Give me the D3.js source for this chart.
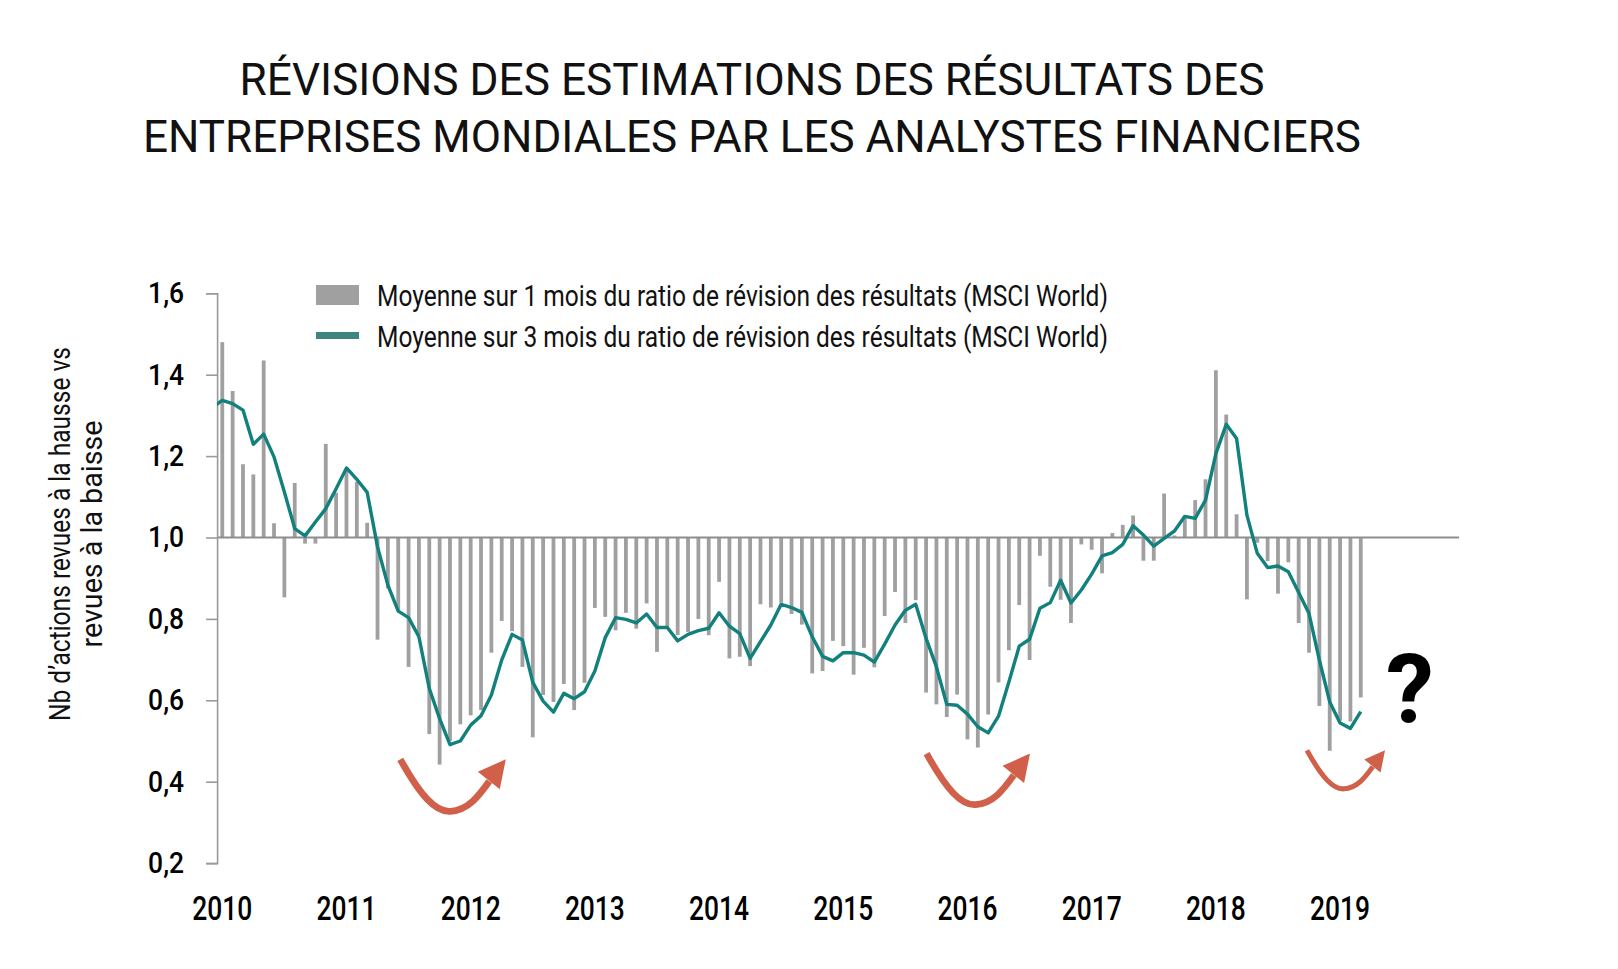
<!DOCTYPE html>
<html><head><meta charset="utf-8">
<script src="https://cdn.jsdelivr.net/npm/d3@7"></script>
<style>
body{margin:0;background:#fff}
svg{display:block}
text{font-family:Roboto,"Noto Sans",sans-serif}
</style>
</head><body>
<svg id="c" width="1618" height="969"></svg>
<script>
// ---- DATA ----
// Monthly 1-month average ratio, Jan 2010 .. Mar 2019
const barValues = [
 1.48,1.36,1.18,1.155,1.435,1.035,0.853,1.134,0.985,0.985,1.23,1.11,
 1.165,1.137,1.036,0.749,0.875,0.82,0.682,0.76,0.517,0.442,0.50,0.541,
 0.563,0.576,0.717,0.795,0.77,0.682,0.509,0.613,0.596,0.640,0.576,0.643,
 0.827,0.805,0.772,0.815,0.776,0.838,0.719,0.78,0.76,0.768,0.800,0.760,
 0.891,0.703,0.707,0.684,0.836,0.828,0.84,0.812,0.786,0.666,0.672,0.746,
 0.733,0.663,0.729,0.681,0.807,0.866,0.790,0.846,0.619,0.590,0.559,0.614,
 0.504,0.484,0.565,0.644,0.723,0.834,0.699,0.955,0.879,0.847,0.790,0.983,
 0.970,0.912,1.011,1.031,1.054,0.943,0.943,1.108,1.005,1.051,1.092,1.143,
 1.411,1.302,1.057,0.848,0.987,0.942,0.862,0.939,0.790,0.717,0.586,0.476,
 0.55,0.548,0.607
];
// 3-month average ratio, Dec 2009 .. Mar 2019
const lineStartMonth = -1;
const lineValues = [
 1.319,
 1.337,1.329,1.313,1.229,1.254,1.198,1.112,1.022,1.004,1.038,1.071,1.120,
 1.171,1.143,1.111,0.977,0.883,0.819,0.803,0.756,0.629,0.555,0.491,0.500,
 0.539,0.562,0.613,0.699,0.762,0.748,0.644,0.598,0.571,0.617,0.604,0.621,
 0.672,0.754,0.803,0.799,0.790,0.812,0.779,0.779,0.746,0.762,0.771,0.777,
 0.815,0.782,0.764,0.703,0.744,0.785,0.836,0.828,0.816,0.756,0.708,0.697,
 0.717,0.717,0.711,0.694,0.738,0.785,0.821,0.836,0.752,0.682,0.590,0.588,
 0.566,0.535,0.520,0.561,0.645,0.733,0.750,0.826,0.840,0.895,0.839,0.871,
 0.910,0.955,0.963,0.983,1.029,1.006,0.979,0.998,1.016,1.052,1.047,1.092,
 1.206,1.278,1.243,1.055,0.961,0.926,0.930,0.916,0.865,0.813,0.699,0.596,
 0.544,0.531,0.572
];
const yearLabels = ["2010","2011","2012","2013","2014","2015","2016","2017","2018","2019"];
const yTicks = [0.2,0.4,0.6,0.8,1.0,1.2,1.4,1.6];
const baselineValue = 1.0;
const titleLines = ["RÉVISIONS DES ESTIMATIONS DES RÉSULTATS DES",
                    "ENTREPRISES MONDIALES PAR LES ANALYSTES FINANCIERS"];
const yTitleLines = ["Nb d’actions revues à la hausse vs", "revues à la baisse"];
const legendLabels = ["Moyenne sur 1 mois du ratio de révision des résultats (MSCI World)",
                      "Moyenne sur 3 mois du ratio de révision des résultats (MSCI World)"];
// annotation arrows: start position (month index, value) and size
const arrowMonths = [17.2, 68.05, 104.8];
const arrowValues = [0.455, 0.469, 0.477];
const arrowScales = [1, 0.98, 0.74];
const questionMonth = 114.75, questionValue = 0.546;

// ---- STYLE ----
const C = {bar:"#a0a0a0", line:"#12807c", legendLine:"#3f847f", axis:"#9a9a9a",
           base:"#8e8e8e", text:"#111", arrow:"#d1604a"};

const svg = d3.select("#c");
const x = d3.scaleLinear().domain([-0.5, 119.5]).range([217.1, 1459.1]);
const y = d3.scaleLinear().domain([0.2, 1.6]).range([863.1, 293.3]);

function fit(sel, w){ sel.attr("textLength", w).attr("lengthAdjust","spacingAndGlyphs"); return sel; }

// Title
const titleY = [95, 152], titleW = [1025, 1218];
titleLines.forEach((t,i)=>{
  fit(svg.append("text").attr("x",752).attr("y",titleY[i]).attr("text-anchor","middle")
    .attr("font-size",44).attr("font-weight",400).attr("fill","#111").text(t), titleW[i]);
});

// Bars
const bw = 3.8;
svg.append("g").selectAll("rect").data(barValues).join("rect")
  .attr("x",(d,i)=>x(i)-bw/2)
  .attr("y",d=>Math.min(y(d),y(baselineValue)))
  .attr("width",bw)
  .attr("height",d=>Math.abs(y(d)-y(baselineValue)))
  .attr("fill",C.bar);

// Baseline at 1.0
svg.append("line").attr("x1",x.range()[0]).attr("x2",x.range()[1])
  .attr("y1",y(baselineValue)).attr("y2",y(baselineValue))
  .attr("stroke",C.base).attr("stroke-width",2);

// Y axis
const ax = svg.append("g").attr("transform",`translate(${x.range()[0]},0)`)
  .call(d3.axisLeft(y).tickValues(yTicks).tickSize(11).tickSizeOuter(11).tickPadding(22)
    .tickFormat(d=>d.toFixed(1).replace(".",",")));
ax.select(".domain").attr("stroke",C.axis).attr("stroke-width",1.6);
ax.selectAll(".tick line").attr("stroke",C.axis).attr("stroke-width",1.6);
ax.selectAll(".tick text").attr("font-size",29.5).attr("font-weight",500).attr("fill","#000")
  .attr("font-family","Roboto").each(function(){ fit(d3.select(this),36); });

// Line (clipped at the axis)
svg.append("clipPath").attr("id","plot").append("rect")
  .attr("x",x.range()[0]).attr("y",0).attr("width",x.range()[1]-x.range()[0]).attr("height",969);
svg.append("path").datum(lineValues)
  .attr("clip-path","url(#plot)")
  .attr("d",d3.line().x((d,i)=>x(i+lineStartMonth)).y(d=>y(d)))
  .attr("fill","none").attr("stroke",C.line).attr("stroke-width",3.4)
  .attr("stroke-linejoin","round");

// Year labels
svg.append("g").selectAll("text").data(yearLabels).join("text")
  .attr("x",(d,i)=>x(i*12)).attr("y",920).attr("text-anchor","middle")
  .attr("font-size",33).attr("font-weight",500).attr("fill","#000").text(d=>d)
  .each(function(){ fit(d3.select(this),60); });

// Y title
const yt = svg.append("g").attr("transform","translate(0,534) rotate(-90)");
const ytX = [70, 102], ytW = [374, 227];
yTitleLines.forEach((t,i)=>{
  fit(yt.append("text").attr("x",0).attr("y",ytX[i]).attr("text-anchor","middle")
    .attr("font-size",30).attr("fill",C.text).text(t), ytW[i]);
});

// Legend
svg.append("rect").attr("x",316).attr("y",285).attr("width",43).attr("height",20).attr("fill",C.bar);
svg.append("line").attr("x1",316).attr("x2",359).attr("y1",335.5).attr("y2",335.5)
  .attr("stroke",C.legendLine).attr("stroke-width",7);
const legY = [306, 346.5];
legendLabels.forEach((t,i)=>{
  fit(svg.append("text").attr("x",377).attr("y",legY[i]).attr("font-size",29)
    .attr("fill",C.text).text(t), 731);
});

// Arrows
arrowMonths.forEach((m,i)=>{
  const g = svg.append("g").attr("transform",`translate(${x(m)},${y(arrowValues[i])}) scale(${arrowScales[i]})`);
  g.append("path").attr("d","M0,0 C20,36 35,53 50,52 C68,51 79,36 89,22")
    .attr("fill","none").attr("stroke",C.arrow).attr("stroke-width",6.8);
  g.append("path").attr("d","M105.5,0 L77.5,12.5 L99.5,30 Z").attr("fill",C.arrow);
});

// Question mark
svg.append("text").attr("x",x(questionMonth)).attr("y",y(questionValue))
  .attr("text-anchor","middle").attr("font-size",96).attr("font-weight",700)
  .attr("font-family","'DejaVu Sans',sans-serif")
  .attr("fill","#000").text("?");
</script>
</body></html>
